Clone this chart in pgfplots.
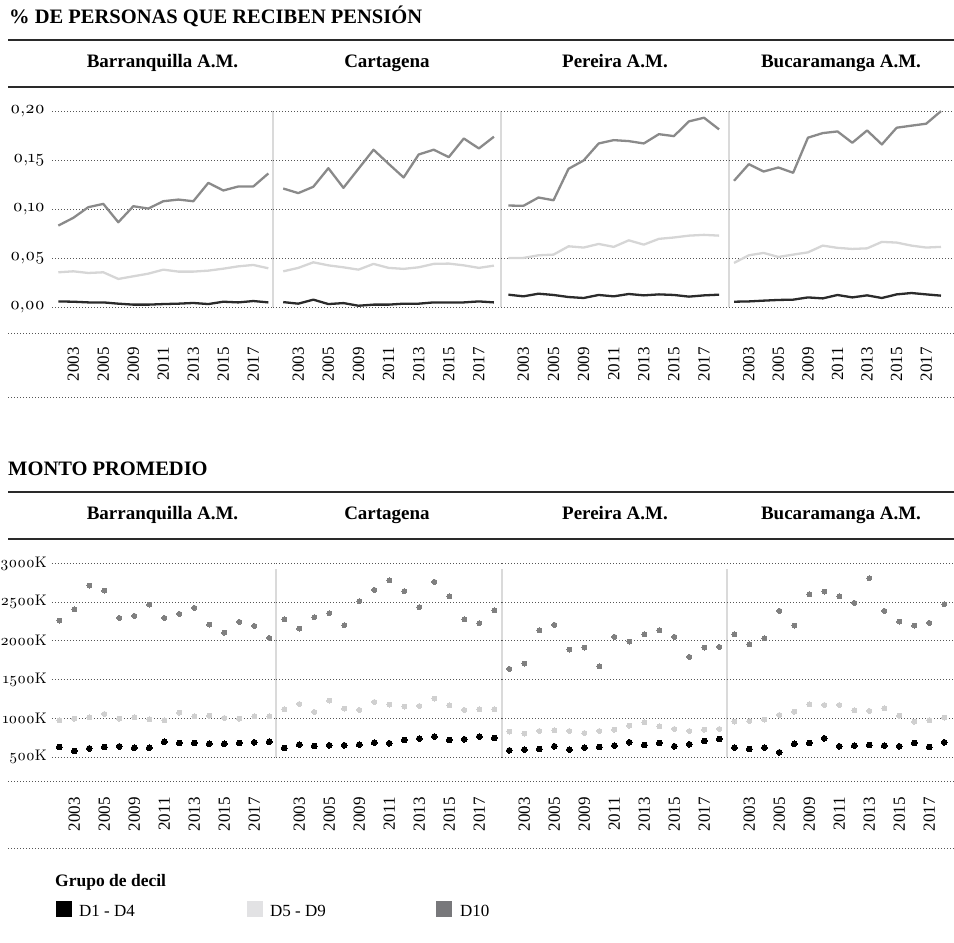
\documentclass[border=0pt]{standalone}
\usepackage{fontspec}
\setmainfont{Liberation Serif}
\newfontfamily\osf{lmroman10-regular.otf}[Numbers=OldStyle]
\usepackage{pgfplots}
\pgfplotsset{compat=1.18}
\usepackage{pgfplotstable}

\definecolor{cD1}{HTML}{000000}
\definecolor{cD1line}{HTML}{2B2B2B}
\definecolor{cD5}{HTML}{D6D6D6}
\definecolor{cD10}{HTML}{8A8A8A}
\definecolor{cD5dot}{HTML}{D0D0D0}
\definecolor{cD10dot}{HTML}{808080}
\definecolor{legD5}{HTML}{E2E2E4}
\definecolor{legD10}{HTML}{78787B}
\definecolor{sepc}{HTML}{DADADA}
\definecolor{gridc}{HTML}{555555}
\definecolor{rulec}{HTML}{2A2A2A}

\newcommand\tickfont{\fontsize{17}{17}\selectfont}
\newcommand\ytfont{\osf\fontsize{17.5}{17.5}\selectfont}
\newcommand\ybfont{\osf\fontsize{15.3}{15.3}\selectfont}
\newcommand\hdfont{\bfseries\fontsize{19}{19}\selectfont}
\newcommand\ttlfont{\bfseries\fontsize{20.5}{20.5}\selectfont}

% ---------- % de personas que reciben pension ----------
\pgfplotstableread{
x d1 d5 d10
0 0.0057 0.0355 0.0833
1 0.0054 0.0365 0.0912
2 0.0047 0.0348 0.1021
3 0.0047 0.0355 0.1055
4 0.0034 0.0287 0.0867
5 0.0024 0.0314 0.1031
6 0.0024 0.0341 0.1007
7 0.0030 0.0382 0.1082
8 0.0034 0.0362 0.1099
9 0.0041 0.0362 0.1082
10 0.0030 0.0372 0.1270
11 0.0054 0.0392 0.1192
12 0.0047 0.0416 0.1233
13 0.0061 0.0430 0.1233
14 0.0047 0.0396 0.1366
}\BQt
\pgfplotstableread{
x d1 d5 d10
0 0.0050 0.0365 0.1212
1 0.0034 0.0400 0.1165
2 0.0075 0.0457 0.1230
3 0.0030 0.0426 0.1420
4 0.0040 0.0406 0.1219
5 0.0013 0.0382 0.1414
6 0.0024 0.0441 0.1609
7 0.0024 0.0400 0.1465
8 0.0034 0.0390 0.1325
9 0.0034 0.0406 0.1560
10 0.0047 0.0441 0.1609
11 0.0047 0.0444 0.1533
12 0.0047 0.0426 0.1724
13 0.0057 0.0400 0.1622
14 0.0047 0.0423 0.1742
}\CTt
\pgfplotstableread{
x d1 d5 d10
0 0.0126 0.0502 0.1038
1 0.0109 0.0502 0.1035
2 0.0136 0.0529 0.1120
3 0.0123 0.0536 0.1092
4 0.0102 0.0621 0.1414
5 0.0092 0.0608 0.1499
6 0.0123 0.0645 0.1673
7 0.0109 0.0615 0.1707
8 0.0133 0.0682 0.1697
9 0.0119 0.0638 0.1673
10 0.0129 0.0697 0.1768
11 0.0123 0.0711 0.1748
12 0.0106 0.0730 0.1899
13 0.0119 0.0738 0.1936
14 0.0126 0.0730 0.1817
}\PEt
\pgfplotstableread{
x d1 d5 d10
0 0.0054 0.0451 0.1291
1 0.0057 0.0529 0.1461
2 0.0065 0.0553 0.1386
3 0.0072 0.0512 0.1427
4 0.0075 0.0536 0.1373
5 0.0098 0.0559 0.1732
6 0.0088 0.0628 0.1779
7 0.0123 0.0605 0.1796
8 0.0098 0.0594 0.1680
9 0.0119 0.0600 0.1806
10 0.0092 0.0666 0.1663
11 0.0129 0.0659 0.1834
12 0.0143 0.0628 0.1855
13 0.0129 0.0608 0.1875
14 0.0116 0.0615 0.2004
}\BUt

% ---------- monto promedio (miles) ----------
\pgfplotstableread{
x d1 d5 d10
0 629 973 2262
1 578 995 2408
2 611 1012 2715
3 629 1056 2650
4 637 995 2297
5 620 1012 2323
6 620 986 2469
7 698 973 2297
8 681 1073 2349
9 681 1025 2427
10 672 1034 2211
11 672 1004 2107
12 681 995 2246
13 689 1025 2194
14 698 1025 2039
}\BQb
\pgfplotstableread{
x d1 d5 d10
0 616 1117 2280
1 660 1185 2160
2 642 1082 2306
3 651 1229 2358
4 651 1126 2203
5 660 1108 2513
6 686 1211 2659
7 677 1178 2781
8 720 1152 2643
9 738 1159 2436
10 764 1255 2763
11 720 1168 2574
12 729 1108 2280
13 764 1117 2229
14 746 1117 2393
}\CTb
\pgfplotstableread{
x d1 d5 d10
0 586 828 1638
1 595 802 1707
2 603 836 2138
3 638 845 2207
4 595 836 1888
5 621 810 1914
6 629 836 1672
7 647 853 2052
8 690 905 1991
9 655 948 2086
10 681 897 2138
11 638 862 2052
12 664 836 1793
13 707 853 1914
14 733 862 1922
}\PEb
\pgfplotstableread{
x d1 d5 d10
0 621 957 2086
1 603 965 1957
2 621 983 2034
3 560 1043 2388
4 672 1086 2198
5 681 1181 2603
6 741 1172 2638
7 638 1172 2577
8 647 1103 2491
9 655 1095 2810
10 647 1129 2388
11 638 1034 2250
12 681 957 2198
13 629 974 2233
14 690 1009 2474
}\BUb

\pgfplotsset{
  panel/.style={
    scale only axis, anchor=south west, clip=false,
    axis line style={draw=none}, major tick length=0pt,
    ymajorgrids, grid style={gridc, line width=0.8pt, dash pattern=on 0.8pt off 2.2pt},
    xtick={1,3,5,7,9,11,13},
    xticklabels={2003,2005,2009,2011,2013,2015,2017},
    xticklabel style={rotate=90, anchor=east, inner sep=0pt, font=\tickfont},
    xticklabel shift=40pt,
    yticklabel style={inner sep=0pt, font=\ytfont},
    yticklabel shift=7pt,
  },
  toppanel/.style={panel, height=195.5pt, ymin=0, ymax=0.2,
    ytick={0,0.05,0.1,0.15,0.2}},
  botpanel/.style={panel, height=193.5pt, ymin=500, ymax=3000,
    ytick={500,1000,1500,2000,2500,3000},
    yticklabel style={font=\ybfont}, yticklabel shift=5pt},
  noylab/.style={yticklabel={\mbox{}}},
  l10/.style={color=cD10, line width=2.3pt, line join=round, no markers},
  l5/.style={color=cD5, line width=2.3pt, line join=round, no markers},
  l1/.style={color=cD1line, line width=2.3pt, line join=round, no markers},
  m10/.style={color=cD10dot, only marks, mark=*, mark size=2.5pt, mark options={draw=cD10dot, fill=cD10dot, line width=0pt}},
  m5/.style={color=cD5dot, only marks, mark=*, mark size=2.5pt, mark options={draw=cD5dot, fill=cD5dot, line width=0pt}},
  m1/.style={color=cD1, only marks, mark=*, mark size=2.9pt, mark options={draw=cD1, fill=cD1, line width=0pt}},
}

\newcommand{\toppanelplot}[6]{%
\begin{axis}[toppanel, at={(#2pt,636pt)}, width=#3pt, xmin=#4, xmax=#5, #6]
\addplot[l10] table[x=x,y=d10]{#1};
\addplot[l5] table[x=x,y=d5]{#1};
\addplot[l1] table[x=x,y=d1]{#1};
\end{axis}}
\newcommand{\botpanelplot}[6]{%
\begin{axis}[botpanel, at={(#2pt,186pt)}, width=#3pt, xmin=#4, xmax=#5, #6]
\addplot[m10] table[x=x,y=d10]{#1};
\addplot[m5] table[x=x,y=d5]{#1};
\addplot[m1] table[x=x,y=d1]{#1};
\end{axis}}

\begin{document}
\begin{tikzpicture}[x=1pt,y=1pt]
\path[use as bounding box] (0,0) rectangle (954,943);

% ===== titles and rules =====
\node[anchor=base west, inner sep=0pt, font=\ttlfont] at (9,919) {\% DE PERSONAS QUE RECIBEN PENSIÓN};
\draw[rulec, line width=2.4pt] (8,903) -- (954,903);
\draw[rulec, line width=2.4pt] (8,856) -- (954,856);
\node[anchor=base, inner sep=0pt, font=\hdfont] at (162.5,875) {Barranquilla A.M.};
\node[anchor=base, inner sep=0pt, font=\hdfont] at (387,875) {Cartagena};
\node[anchor=base, inner sep=0pt, font=\hdfont] at (615,875) {Pereira A.M.};
\node[anchor=base, inner sep=0pt, font=\hdfont] at (841,875) {Bucaramanga A.M.};

\node[anchor=base west, inner sep=0pt, font=\ttlfont] at (8,467) {MONTO PROMEDIO};
\draw[rulec, line width=2.4pt] (8,451) -- (954,451);
\draw[rulec, line width=2.4pt] (8,404) -- (954,404);
\node[anchor=base, inner sep=0pt, font=\hdfont] at (162.5,423) {Barranquilla A.M.};
\node[anchor=base, inner sep=0pt, font=\hdfont] at (387,423) {Cartagena};
\node[anchor=base, inner sep=0pt, font=\hdfont] at (615,423) {Pereira A.M.};
\node[anchor=base, inner sep=0pt, font=\hdfont] at (841,423) {Bucaramanga A.M.};

% dotted separators around the year labels
\foreach \yy in {610,546,162,95}
  \draw[gridc, line width=0.8pt, dash pattern=on 0.8pt off 2.2pt] (8,\yy) -- (954,\yy);

% panel separators
\foreach \xx in {273,501,729}
  \draw[sepc, line width=1.3pt] (\xx,636) -- (\xx,831.5);
\foreach \xx in {276,502,727}
  \draw[sepc, line width=1.3pt] (\xx,186) -- (\xx,374);

% ===== top panels =====
\toppanelplot{\BQt}{52}{221}{-0.42}{14.31}{yticklabels={{0,00},{0,05},{0,10},{0,15},{0,20}}}
\toppanelplot{\CTt}{273}{228}{-0.68}{14.47}{noylab}
\toppanelplot{\PEt}{501}{228}{-0.49}{14.66}{noylab}
\toppanelplot{\BUt}{729}{225}{-0.34}{14.88}{noylab}

% ===== bottom panels =====
\botpanelplot{\BQb}{52}{224}{-0.49}{14.45}{yticklabels={500K,1000K,1500K,2000K,2500K,3000K}}
\botpanelplot{\CTb}{276}{226}{-0.55}{14.51}{noylab}
\botpanelplot{\PEb}{502}{225}{-0.49}{14.51}{noylab}
\botpanelplot{\BUb}{727}{227}{-0.49}{14.65}{noylab}

% ===== legend =====
\node[anchor=base west, inner sep=0pt, font=\bfseries\fontsize{17.5}{17.5}\selectfont] at (55,56) {Grupo de decil};
\fill[cD1] (55.7,26.3) rectangle ++(16,16);
\node[anchor=base west, inner sep=0pt, font=\fontsize{17}{17}\selectfont] at (79,26.5) {D1 - D4};
\fill[legD5] (246.7,26.3) rectangle ++(16,16);
\node[anchor=base west, inner sep=0pt, font=\fontsize{17}{17}\selectfont] at (270,26.5) {D5 - D9};
\fill[legD10] (435.7,26.3) rectangle ++(16,16);
\node[anchor=base west, inner sep=0pt, font=\fontsize{17}{17}\selectfont] at (460,26.5) {D10};
\end{tikzpicture}
\end{document}
